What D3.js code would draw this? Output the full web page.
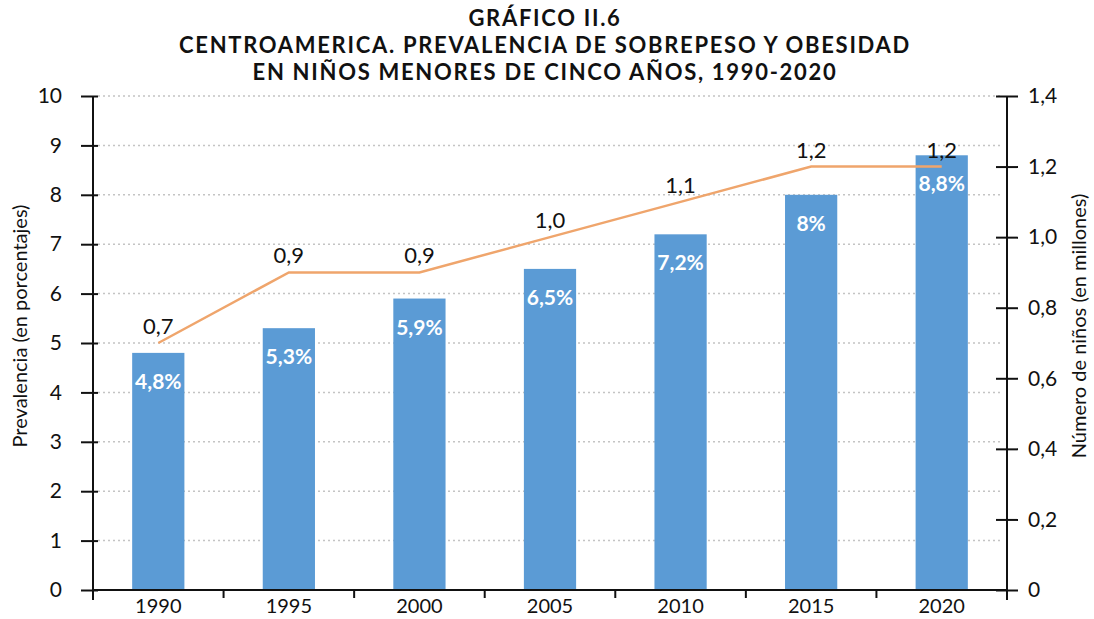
<!DOCTYPE html>
<html><head><meta charset="utf-8">
<script src="https://cdn.jsdelivr.net/npm/d3@7"></script>
<style>body{margin:0;background:#fff;} text{font-family:Lato,"Open Sans",sans-serif;}</style>
</head><body>
<svg id="c" width="1094" height="619"></svg>
<script>
const years = ["1990","1995","2000","2005","2010","2015","2020"];
const prevalence = [4.8, 5.3, 5.9, 6.5, 7.2, 8.0, 8.8];
const prevalenceLabels = ["4,8%","5,3%","5,9%","6,5%","7,2%","8%","8,8%"];
const children = [0.7, 0.9, 0.9, 1.0, 1.1, 1.2, 1.2];
const childrenLabels = ["0,7","0,9","0,9","1,0","1,1","1,2","1,2"];
const leftTicks = [0,1,2,3,4,5,6,7,8,9,10];
const rightTicks = [0,0.2,0.4,0.6,0.8,1.0,1.2,1.4];
const titleLines = ["GRÁFICO II.6","CENTROAMERICA. PREVALENCIA DE SOBREPESO Y OBESIDAD","EN NIÑOS MENORES DE CINCO AÑOS, 1990-2020"];

const svg = d3.select("#c");
const L = 93, R = 1007, T = 96, B = 590;
const x = d3.scaleBand().domain(years).range([L, R]).paddingInner(0.6).paddingOuter(0.3);
const y = d3.scaleLinear().domain([0,10]).range([B, T]);
const y2 = d3.scaleLinear().domain([0,1.4]).range([B, T]);

// title
svg.append("g").selectAll("text").data(titleLines).join("text")
  .attr("x", 545).attr("y", (d,i)=>26 + i*27)
  .attr("text-anchor","middle").attr("font-weight","bold").attr("font-size",22)
  .attr("letter-spacing",1.7)
  .attr("fill","#111").text(d=>d);

// grid
svg.append("g").selectAll("line").data(leftTicks.slice(1)).join("line")
  .attr("x1", L+5).attr("x2", R-5).attr("y1", d=>y(d)).attr("y2", d=>y(d))
  .attr("stroke","#c4c4c4").attr("stroke-width",1.5).attr("stroke-dasharray","2,3");

// bars
svg.append("g").selectAll("rect").data(prevalence).join("rect")
  .attr("x",(d,i)=>x(years[i])).attr("width",x.bandwidth())
  .attr("y",d=>y(d)).attr("height",d=>B-y(d)).attr("fill","#5b9bd5");

svg.append("g").selectAll("text").data(prevalence).join("text")
  .attr("x",(d,i)=>x(years[i])+x.bandwidth()/2).attr("y",d=>y(d)+36)
  .attr("text-anchor","middle").attr("font-weight","bold").attr("font-size",21)
  .attr("fill","#fff").text((d,i)=>prevalenceLabels[i]);

// line
const line = d3.line().x((d,i)=>x(years[i])+x.bandwidth()/2).y(d=>y2(d));
svg.append("path").datum(children).attr("d",line).attr("fill","none")
  .attr("stroke","#efa56c").attr("stroke-width",2.5);
svg.append("g").selectAll("text").data(children).join("text")
  .attr("x",(d,i)=>x(years[i])+x.bandwidth()/2).attr("y",d=>y2(d)-9)
  .attr("text-anchor","middle").attr("font-size",22).attr("fill","#111")
  .text((d,i)=>childrenLabels[i]);

// axes
const fmt = d => d===0 ? "0" : d3.format(".1f")(d).replace(".",",");
const ax = svg.append("g").attr("transform",`translate(${L},0)`)
  .call(d3.axisLeft(y).tickValues(leftTicks).tickSize(12).tickPadding(19).tickFormat(d=>d));
ax.selectAll(".tick line").attr("x1",5).attr("x2",-12);
ax.select(".domain").attr("d",`M0,${T}V${B+10}`);
const ax2 = svg.append("g").attr("transform",`translate(${R},0)`)
  .call(d3.axisRight(y2).tickValues(rightTicks).tickSize(12).tickPadding(9).tickFormat(fmt));
ax2.selectAll(".tick line").attr("x1",-11).attr("x2",11);
ax2.select(".domain").attr("d",`M0,${T}V${B+10}`);
const axb = svg.append("g").attr("transform",`translate(0,${B})`)
  .call(d3.axisBottom(x).tickSize(0).tickPadding(9));
axb.select(".domain").attr("d",`M${L},0H${R}`);
// category separators
svg.append("g").selectAll("line").data(years.slice(1)).join("line")
  .attr("x1",d=>x(d)-x.step()*x.paddingInner()/2).attr("x2",d=>x(d)-x.step()*x.paddingInner()/2)
  .attr("y1",B).attr("y2",B+8).attr("stroke","#111").attr("stroke-width",2);
[ax,ax2,axb].forEach(g=>{
  g.selectAll("path,line").attr("stroke","#111").attr("stroke-width",2);
  g.selectAll("text").attr("font-size",21).attr("fill","#111");
});
axb.selectAll("text").attr("font-size",20);

// axis titles
svg.append("text").attr("transform","translate(27,326) rotate(-90)")
  .attr("text-anchor","middle").attr("font-size",20).attr("fill","#111").text("Prevalencia (en porcentajes)");
svg.append("text").attr("transform","translate(1086,326) rotate(-90)")
  .attr("text-anchor","middle").attr("font-size",20).attr("fill","#111").text("Número de niños (en millones)");
</script>
</body></html>
